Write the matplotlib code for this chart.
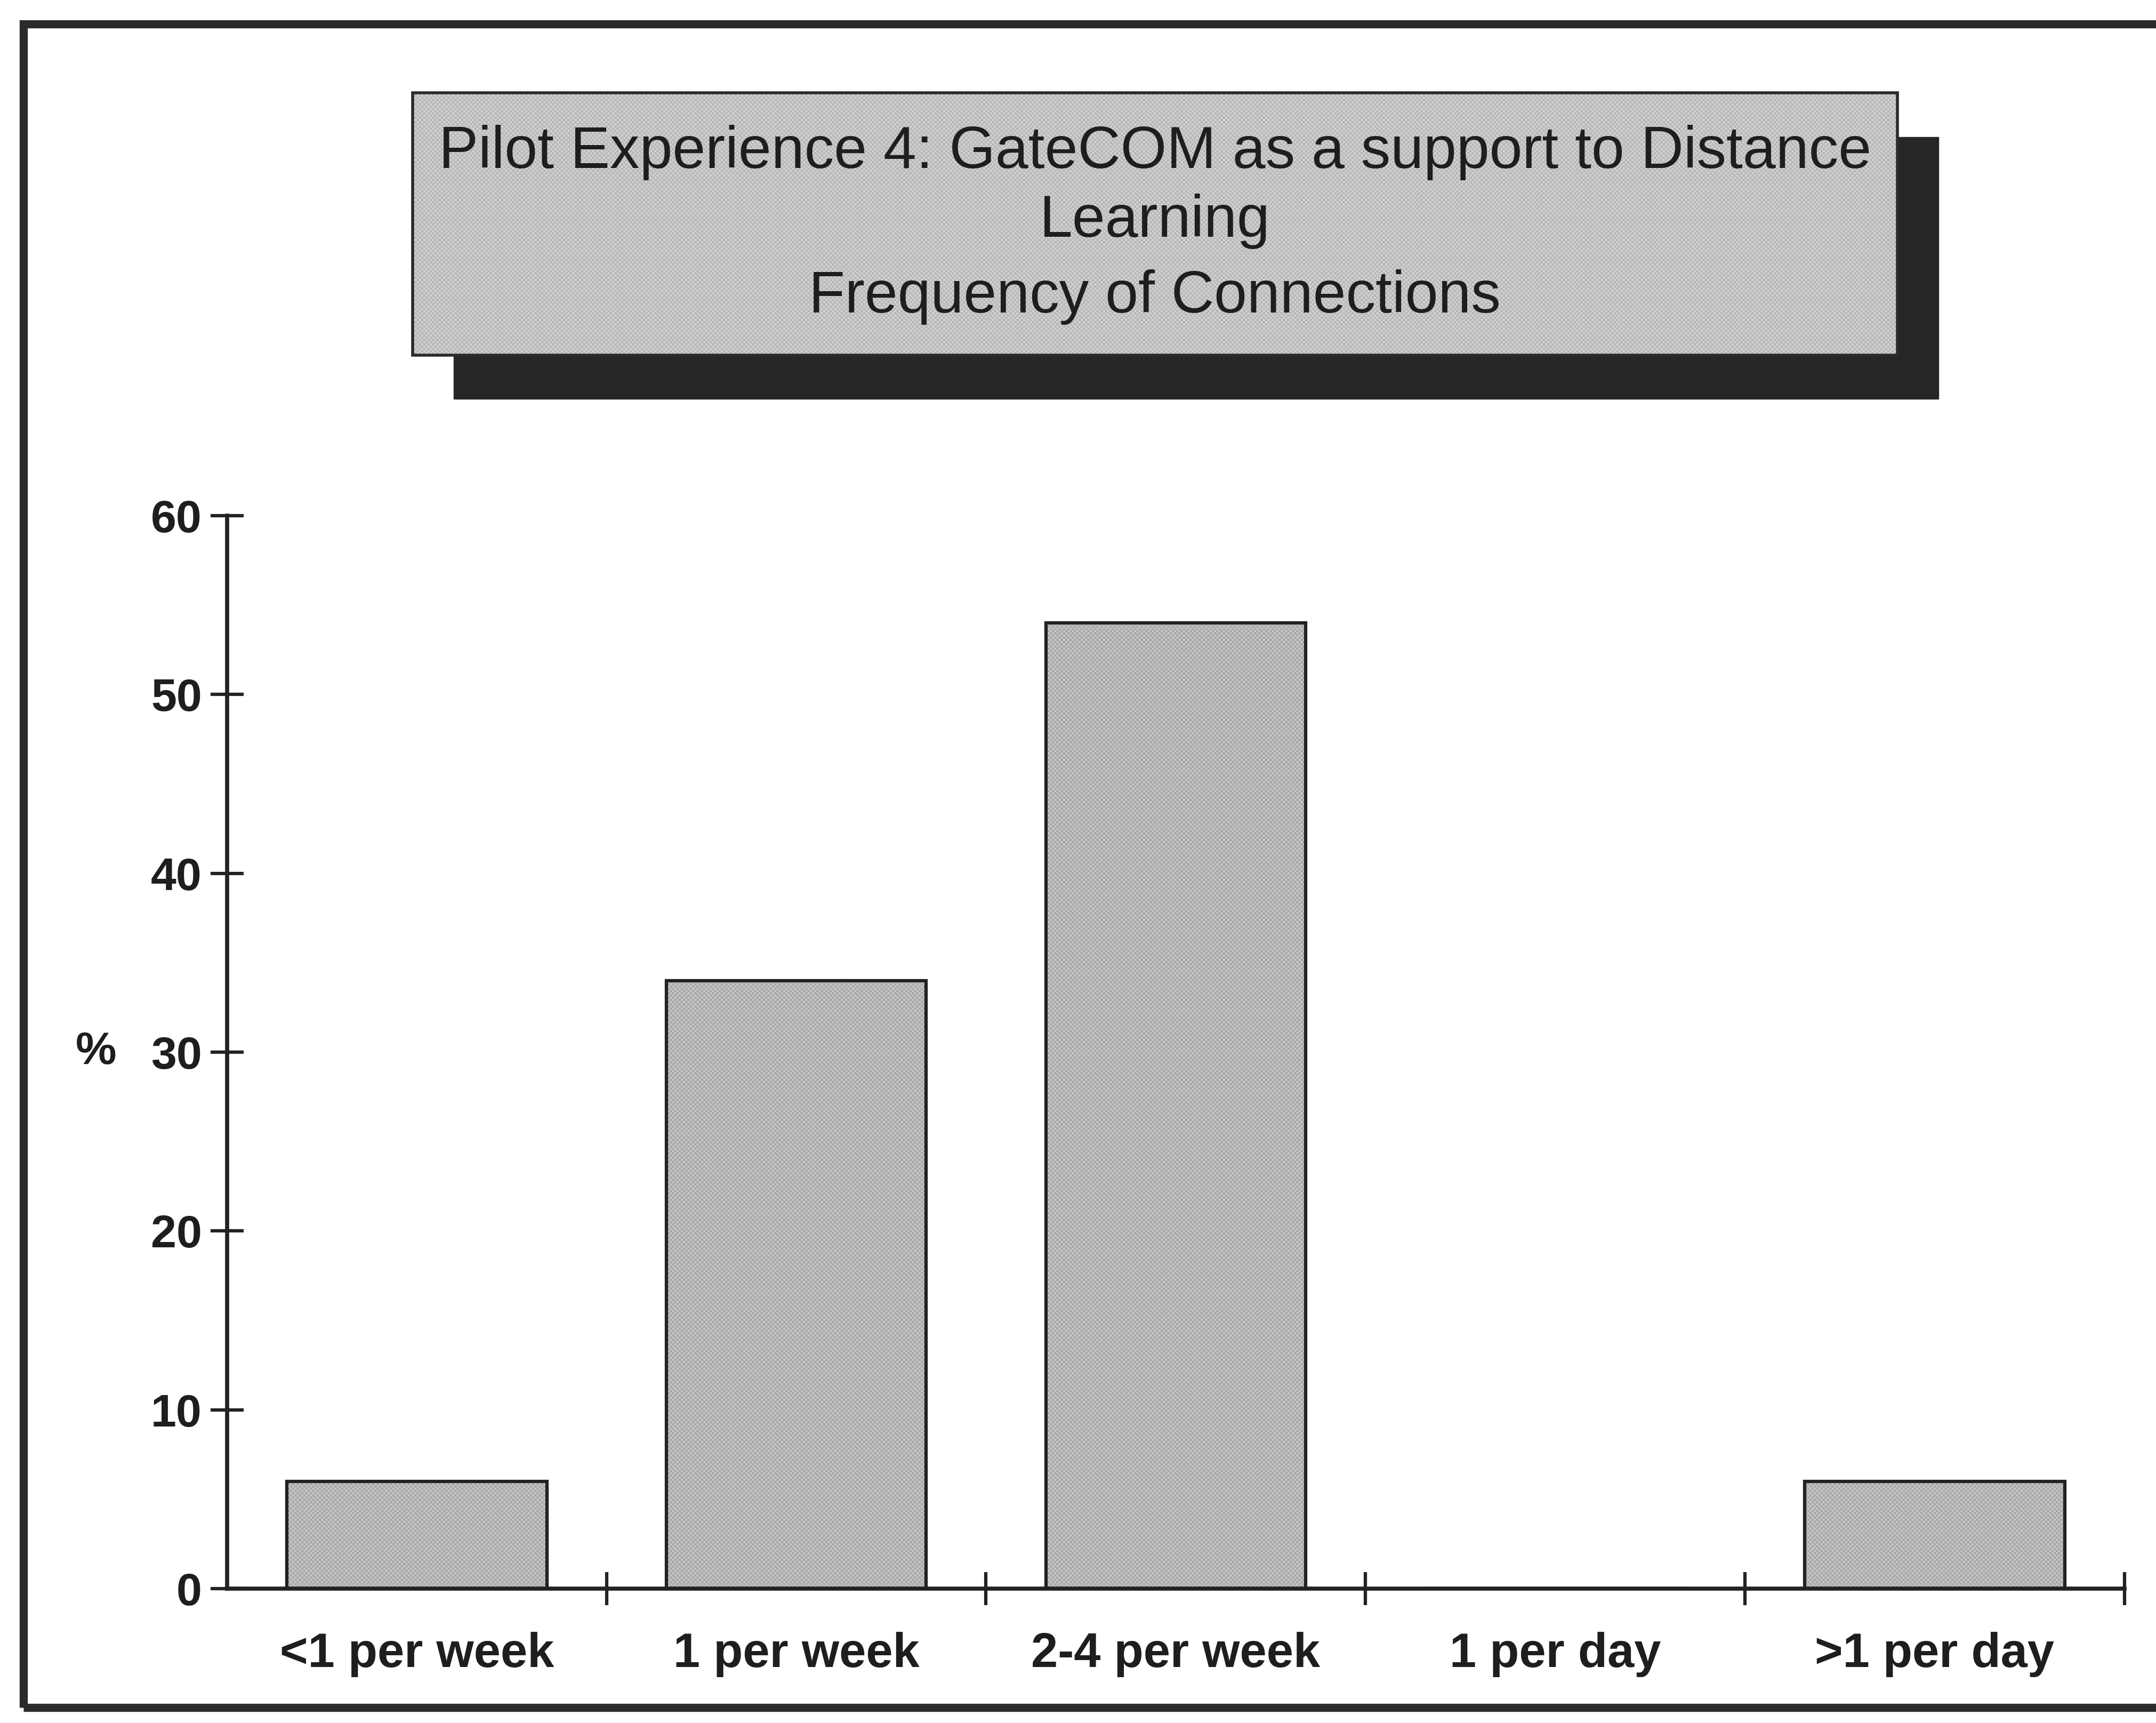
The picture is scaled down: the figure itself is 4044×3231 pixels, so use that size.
import matplotlib
matplotlib.use("Agg")
import matplotlib.pyplot as plt
from matplotlib.patches import Rectangle

categories = ["<1 per week", "1 per week", "2-4 per week", "1 per day", ">1 per day"]
percent = [6, 34, 54, 0, 6]
y_ticks = [0, 10, 20, 30, 40, 50, 60]
title_lines = ["Pilot Experience 4: GateCOM as a support to Distance",
               "Learning",
               "Frequency of Connections"]

plt.rcParams['font.family'] = ['Liberation Sans', 'DejaVu Sans']
plt.rcParams['hatch.linewidth'] = 1.2

W, H = 4044, 3231
fig = plt.figure(figsize=(W / 100, H / 100), dpi=100)
fig.patch.set_facecolor("white")

# outer frame (left, top, bottom visible; right runs off the page)
fig.patches.append(Rectangle((0.011, 0.009), 1.2, 0.977, transform=fig.transFigure,
                             fill=False, edgecolor="#2b2b2b", linewidth=11, zorder=0))

# title box with shadow
box = (0.1914, 0.794, 0.6886, 0.152)
fig.patches.append(Rectangle((0.2105, 0.7685), 0.6885, 0.152, transform=fig.transFigure,
                             facecolor="#262626", edgecolor="#262626", linewidth=1, zorder=1))
fig.patches.append(Rectangle(box[:2], box[2], box[3], transform=fig.transFigure,
                             facecolor="#d2d2d2", edgecolor="none", zorder=2))
fig.patches.append(Rectangle(box[:2], box[2], box[3], transform=fig.transFigure,
                             facecolor="none", edgecolor="#b4b4b4", linewidth=0,
                             hatch="xxxx", zorder=3))
fig.patches.append(Rectangle(box[:2], box[2], box[3], transform=fig.transFigure,
                             facecolor="none", edgecolor="#2b2b2b", linewidth=4, zorder=4))
title_y = [0.9116, 0.8717, 0.8277]
for line, ty in zip(title_lines, title_y):
    fig.text(0.5357, ty, line, ha="center", va="center", fontsize=80,
             color="#1e1e1e", zorder=5)

ax = fig.add_axes([0.1053, 0.078, 0.8801, 0.6227])
x = list(range(len(categories)))
ax.bar(x, percent, width=0.685, facecolor="#c8c8c8", edgecolor="none", zorder=2)
ax.bar(x, percent, width=0.685, facecolor="none", edgecolor="#a4a4a4",
       linewidth=0, hatch="xxxx", zorder=3)
ax.bar(x, percent, width=0.685, facecolor="none", edgecolor="#222222",
       linewidth=4.5, zorder=4)

ax.set_xlim(-0.5, 4.5)
ax.set_ylim(0, 60)
for s in ["top", "right"]:
    ax.spines[s].set_visible(False)
for s in ["left", "bottom"]:
    ax.spines[s].set_linewidth(5.5)
    ax.spines[s].set_color("#222222")
    ax.spines[s].set_zorder(5)

ax.set_yticks(y_ticks)
ax.set_yticklabels([str(v) for v in y_ticks], fontsize=62, fontweight="bold", color="#1e1e1e")
ax.tick_params(axis="y", direction="inout", length=44, width=4.5, color="#222222", pad=12)

ax.set_xticks([0.5, 1.5, 2.5, 3.5, 4.5])
ax.set_xticklabels([])
ax.tick_params(axis="x", which="major", direction="inout", length=44, width=4.5, color="#222222")
ax.set_xticks(x, minor=True)
ax.set_xticklabels(categories, minor=True, fontsize=65, fontweight="bold", color="#1e1e1e")
ax.tick_params(axis="x", which="minor", length=0, pad=58)

ax.text(-0.069, 30, "%", transform=ax.get_yaxis_transform(), ha="center", va="center",
        fontsize=62, fontweight="bold", color="#1e1e1e")
ax.patch.set_alpha(0)

fig.savefig("out.png", dpi=100, facecolor="white")
